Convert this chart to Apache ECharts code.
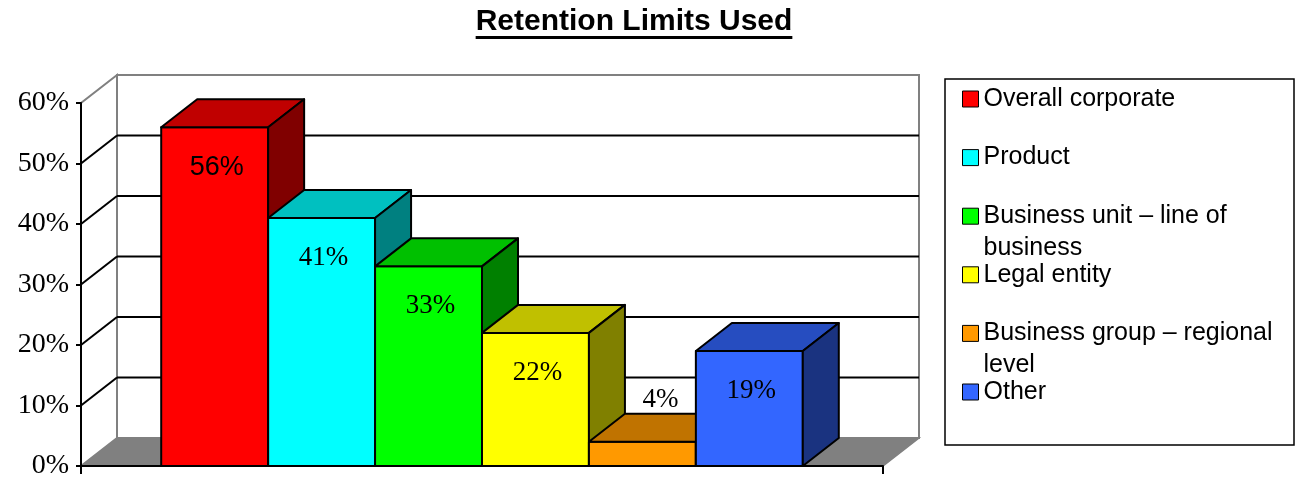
<!DOCTYPE html>
<html><head><meta charset="utf-8">
<script src="https://cdn.jsdelivr.net/npm/echarts@6/dist/echarts.min.js"></script>
<style>html,body{margin:0;padding:0;background:#fff}#c{width:1295px;height:480px}</style>
</head><body><div id="c"></div>
<script>
// ---- data ----
const title = 'Retention Limits Used';
const categories = ['Overall corporate', 'Product', 'Business unit – line of business', 'Legal entity', 'Business group – regional level', 'Other'];
const values = [56, 41, 33, 22, 4, 19];
const yTicks = [0, 10, 20, 30, 40, 50, 60];
const colors = ['#FF0000', '#00FFFF', '#00FF00', '#FFFF00', '#FF9900', '#3366FF'];

// ---- style / layout ----
const SERIF = '"Liberation Serif","Times New Roman",serif';
const SANS = '"Liberation Sans",Arial,sans-serif';
const LABEL_FONTS = ['27px ' + SANS, '27px ' + SERIF, '27px ' + SERIF, '27px ' + SERIF, '27px ' + SERIF, '27px ' + SERIF];
const DX = 36, DY = -28;          // depth offset of the 3D box
const HALF_GAP = 0.75;            // empty space each side, in bar widths
const X_MIN = -HALF_GAP, X_MAX = categories.length + HALF_GAP;
const GRAY = '#808080';
const LEG_C0 = 99, LEG_PITCH = 58.6, LEG_LH = 32, LEG_W = 310, LEG_FS = 25;
const TITLE_CX = 634, TITLE_FS = 30;

const cv = document.createElement('canvas').getContext('2d');
function lineCount(text) {
  cv.font = LEG_FS + 'px ' + SANS;
  const words = text.split(' ');
  let n = 1, cur = '';
  for (const w of words) {
    const t = cur ? cur + ' ' + w : w;
    if (cv.measureText(t).width > LEG_W && cur) { n++; cur = w; } else cur = t;
  }
  return n;
}
cv.font = 'bold ' + TITLE_FS + 'px ' + SANS;
const titleW = cv.measureText(title).width;
const titleLeft = TITLE_CX - titleW / 2;

function shade(c, k) {
  const p = echarts.color.parse(c);
  return 'rgb(' + Math.round(p[0] * k) + ',' + Math.round(p[1] * k) + ',' + Math.round(p[2] * k) + ')';
}

function renderWalls(params, api) {
  const t = api.value(0);
  const a = api.coord([X_MIN, t]);
  const b = api.coord([X_MAX, t]);
  const children = [];
  const yMax = yTicks[yTicks.length - 1];
  if (params.dataIndex === 0) {
    const f0 = api.coord([X_MIN, 0]), f1 = api.coord([X_MAX, 0]);
    const top0 = api.coord([X_MIN, yMax]), top1 = api.coord([X_MAX, yMax]);
    children.push({type: 'polygon', shape: {points: [[f0[0], f0[1]], [f1[0], f1[1]], [f1[0] + DX, f1[1] + DY], [f0[0] + DX, f0[1] + DY]]},
      style: {fill: GRAY, stroke: GRAY, lineWidth: 1.5}});
    children.push({type: 'polygon', shape: {points: [[f0[0] + DX, f0[1] + DY], [f1[0] + DX, f1[1] + DY], [top1[0] + DX, top1[1] + DY], [top0[0] + DX, top0[1] + DY]]},
      style: {fill: '#fff', stroke: GRAY, lineWidth: 2}});
    children.push({type: 'polygon', shape: {points: [[f0[0], f0[1]], [f0[0] + DX, f0[1] + DY], [top0[0] + DX, top0[1] + DY], [top0[0], top0[1]]]},
      style: {fill: '#fff', stroke: GRAY, lineWidth: 2}});
  } else if (t !== yMax) {
    children.push({type: 'line', shape: {x1: a[0] + DX, y1: a[1] + DY, x2: b[0] + DX, y2: b[1] + DY}, style: {stroke: '#000', lineWidth: 2}});
    children.push({type: 'line', shape: {x1: a[0], y1: a[1], x2: a[0] + DX, y2: a[1] + DY}, style: {stroke: '#000', lineWidth: 2}});
  }
  return {type: 'group', children};
}

function renderBar(params, api) {
  const i = api.value(0), v = api.value(1);
  const p0 = api.coord([i, 0]);
  const p1 = api.coord([i + 1, v]);
  const x0 = p0[0], yb = p0[1], x1 = p1[0], yt = p1[1];
  const c = api.visual('color');
  const st = {stroke: '#000', lineWidth: 2, lineJoin: 'round'};
  const ch = [
    {type: 'polygon', shape: {points: [[x0, yt], [x1, yt], [x1, yb], [x0, yb]]}, style: Object.assign({fill: c}, st)},
    {type: 'polygon', shape: {points: [[x0, yt], [x0 + DX, yt + DY], [x1 + DX, yt + DY], [x1, yt]]}, style: Object.assign({fill: shade(c, 0.753)}, st)},
    {type: 'polygon', shape: {points: [[x1, yt], [x1 + DX, yt + DY], [x1 + DX, yb + DY], [x1, yb]]}, style: Object.assign({fill: shade(c, 0.5)}, st)}
  ];
  const tall = (yb - yt) > 60;
  const lx = tall ? (x0 + x1) / 2 + 2 : (x0 + x1) / 2 + DX / 2;
  const ly = tall ? yt + 40 : yt + DY - 14;
  ch.push({type: 'text', z2: 10, style: {text: v + '%', x: lx, y: ly, font: LABEL_FONTS[i], fill: '#000',
    align: 'center', verticalAlign: 'middle', textAlign: 'center', textVerticalAlign: 'middle'}});
  return {type: 'group', children: ch};
}

const series = [{
  type: 'custom', name: '__walls', z: 1, silent: true,
  data: yTicks.map(t => [t]),
  renderItem: renderWalls
}];
categories.forEach((name, i) => {
  series.push({
    type: 'custom', name, z: 2, silent: true,
    itemStyle: {color: colors[i]},
    encode: {x: 0, y: 1},
    data: [[i, values[i]]],
    renderItem: renderBar
  });
});

const legends = categories.map((name, i) => {
  const n = lineCount(name);
  return {
    data: [name], orient: 'vertical', left: 962,
    top: LEG_C0 + i * LEG_PITCH - LEG_LH / 2 - (n - 1) * LEG_LH,
    padding: 0, itemGap: 0, itemWidth: 16, itemHeight: 16, icon: 'rect', selectedMode: false,
    itemStyle: {borderColor: '#000', borderWidth: 1},
    formatter: nm => '\n'.repeat(n - 1) + nm,
    textStyle: {fontFamily: SANS, fontSize: LEG_FS, color: '#000', lineHeight: LEG_LH,
      width: LEG_W, overflow: 'break'}
  };
});

const chart = echarts.init(document.getElementById('c'), null, {renderer: 'canvas'});
chart.setOption({
  animation: false,
  backgroundColor: '#fff',
  title: {text: title, left: titleLeft, top: 7, padding: 0,
    textStyle: {fontFamily: SANS, fontSize: TITLE_FS, fontWeight: 'bold', color: '#000'}},
  grid: {left: 81, right: 412, top: 103, bottom: 13},
  xAxis: {type: 'value', min: X_MIN, max: X_MAX, z: 5,
    axisLine: {show: true, onZero: false, lineStyle: {color: '#000', width: 2}},
    axisTick: {show: true, customValues: [X_MIN, X_MAX], length: 8, lineStyle: {color: '#000', width: 2}},
    axisLabel: {show: false}, splitLine: {show: false}},
  yAxis: {type: 'value', min: 0, max: 60, interval: 10, z: 5,
    axisLine: {show: true, onZero: false, lineStyle: {color: '#000', width: 2}},
    axisTick: {show: true, length: 5, lineStyle: {color: '#000', width: 2}},
    axisLabel: {formatter: v => v + '%', fontFamily: SERIF, fontSize: 28, color: '#000', margin: 12},
    splitLine: {show: false}},
  legend: legends,
  graphic: [
    {type: 'rect', shape: {x: 945, y: 79, width: 349, height: 366}, style: {fill: 'none', stroke: '#000', lineWidth: 1.5}, z: 0},
    {type: 'line', shape: {x1: titleLeft, y1: 37.5, x2: titleLeft + titleW, y2: 37.5}, style: {stroke: '#000', lineWidth: 3}}
  ],
  series
});
</script></body></html>
